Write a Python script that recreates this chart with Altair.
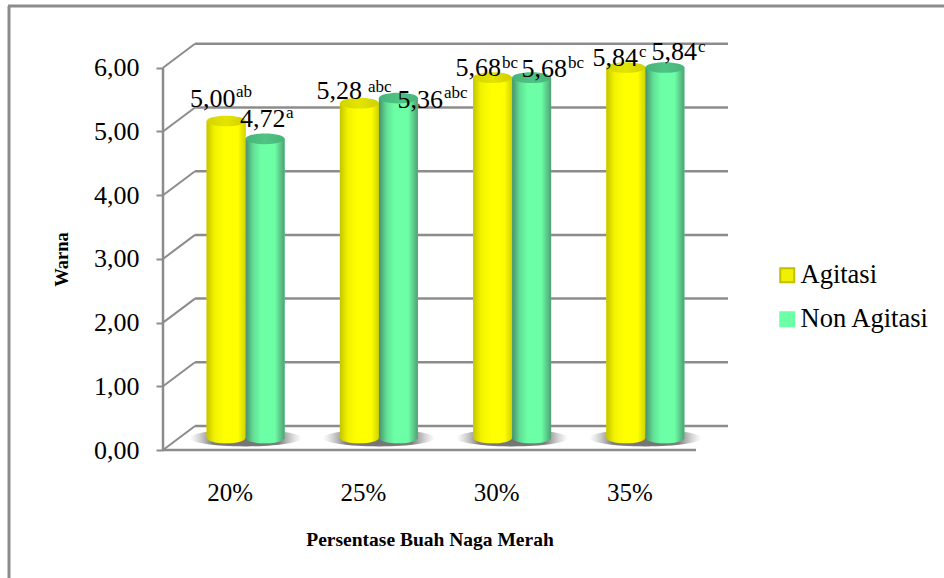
import altair as alt
import pandas as pd

# Chart values
categories = ["20%", "25%", "30%", "35%"]
agitasi = [5.00, 5.28, 5.68, 5.84]
non_agitasi = [4.72, 5.36, 5.68, 5.84]
notes_agitasi = ["ab", "abc", "bc", "c"]
notes_non_agitasi = ["a", "abc", "bc", "c"]
value_ticks = [0, 1, 2, 3, 4, 5, 6]
series_names = ["Agitasi", "Non Agitasi"]

# Layout, in pixels
FONT = "Liberation Serif"
GREY = "#8c8c8c"
PLOT_W, PLOT_H = 565, 407
CAT_PX, VAL_PX = 133.25, 63.7
DEPTH_X, DEPTH_Y = 32, 24
BAR_W = 39
CAP_DROP = 1.5
ELLIPSE = "M-1,0A1,0.275 0 1,1 1,0A1,0.275 0 1,1 -1,0Z"
SHADOW = "M-1,0A1,0.15 0 1,1 1,0A1,0.15 0 1,1 -1,0Z"

# Hand placement of the value labels around each bar top: number end, baseline,
# then the gap and rise of the superscript
label_dx = {"Agitasi": [9.4, 2.6, 8.4, 12.1], "Non Agitasi": [20.4, 44.6, 35.4, 32.1]}
label_dy = {"Agitasi": [-12.5, -2.7, 0, 0], "Non Agitasi": [-10.3, 11.4, 0.8, -6]}
note_gap = {"Agitasi": [0.5, 6, 1, 1], "Non Agitasi": [0.5, 1, 1, 1]}
note_rise = {"Agitasi": [10, 7, 8, 9], "Non Agitasi": [9, 10, 9, 8]}

dx_units = DEPTH_X / CAT_PX
dy_units = DEPTH_Y / VAL_PX
x_scale = alt.Scale(domain=[0, PLOT_W / CAT_PX], nice=False, zero=False)
y_scale = alt.Scale(domain=[0, PLOT_H / VAL_PX], nice=False, zero=False)

y_axis = alt.Axis(
    values=value_ticks, domain=False, grid=False,
    tickColor=GREY, tickWidth=2, tickSize=7,
    labelExpr="replace(format(datum.value, '.2f'), '.', ',')",
    labelFont=FONT, labelFontSize=26, labelColor="black", labelPadding=17,
    title="Warna", titleFont=FONT, titleFontSize=18.5, titleFontWeight="bold",
    titleColor="black", titleAngle=270, titleX=-96, titleY=216,
    titleAlign="center", titleBaseline="alphabetic",
)
x_axis = alt.Axis(
    values=[i + 0.5 for i in range(len(categories))], domain=False, grid=False,
    ticks=False, labelAngle=0,
    labelExpr="['" + "','".join(categories) + "'][floor(datum.value)]",
    labelFont=FONT, labelFontSize=25, labelColor="black", labelPadding=30,
    title="Persentase Buah Naga Merah", titleFont=FONT, titleFontSize=19.5,
    titleFontWeight="bold", titleColor="black", titleX=266.5, titleY=95,
    titleAlign="center", titleBaseline="alphabetic",
)


def px(field):
    return alt.X(field, type="quantitative", scale=x_scale, axis=x_axis)


def py(field):
    return alt.Y(field, type="quantitative", scale=y_scale, axis=y_axis)


# One row per cylinder
rows = []
for name, sign, values, notes in [
    ("Agitasi", -1, agitasi, notes_agitasi),
    ("Non Agitasi", 1, non_agitasi, notes_non_agitasi),
]:
    for i, value in enumerate(values):
        centre = i + 0.5 + dx_units / 2 + sign * BAR_W / 2 / CAT_PX
        mid_depth = value + dy_units / 2
        split = centre + label_dx[name][i] / CAT_PX
        base = mid_depth - label_dy[name][i] / VAL_PX
        rows.append({
            "series": name,
            "centre": centre,
            "left": centre - BAR_W / 2 / CAT_PX,
            "right": centre + BAR_W / 2 / CAT_PX,
            "floor": dy_units / 2,
            "top": mid_depth - CAP_DROP / VAL_PX,
            "number": f"{value:.2f}".replace(".", ","),
            "note": notes[i],
            "number_x": split,
            "number_y": base,
            "note_x": split + note_gap[name][i] / CAT_PX,
            "note_y": base + note_rise[name][i] / VAL_PX,
        })
bars = pd.DataFrame(rows)

# The box: back wall, side diagonals, front axis line and floor edge
back = pd.DataFrame({
    "x": [dx_units] * len(value_ticks),
    "x2": [dx_units + len(categories)] * len(value_ticks),
    "y": [v + dy_units for v in value_ticks],
})
diagonals = pd.DataFrame({
    "x": [0.0] * len(value_ticks),
    "x2": [dx_units] * len(value_ticks),
    "y": [float(v) for v in value_ticks],
    "y2": [v + dy_units for v in value_ticks],
})
front = pd.DataFrame({"x": [0.0, 0.0], "x2": [0.0, float(len(categories))],
                      "y": [0.0, 0.0], "y2": [float(value_ticks[-1]), 0.0]})
shadows = pd.DataFrame({"x": [i + 0.5 + dx_units / 2 for i in range(len(categories))],
                        "y": [dy_units / 2] * len(categories)})


def sideways(stops):
    return alt.LinearGradient(
        gradient="linear", x1=0, x2=1, y1=0, y2=0,
        stops=[alt.GradientStop(color=c, offset=o) for o, c in stops],
    )


yellow_body = sideways([(0, "#c4c400"), (0.2, "#f2f200"), (0.45, "#ffff00"), (0.8, "#ffff00"), (1, "#d2d200")])
green_body = sideways([(0, "#48906a"), (0.2, "#62e096"), (0.4, "#6cffa6"), (0.75, "#6cffa6"), (1, "#4f9f74")])
yellow_cap = sideways([(0, "#d4d400"), (0.5, "#e4e400"), (1, "#d0d000")])
green_cap = sideways([(0, "#48b478"), (0.5, "#4fc484"), (1, "#48b478")])
shade = alt.RadialGradient(
    gradient="radial", x1=0.5, y1=0.5, x2=0.5, y2=0.5, r1=0, r2=0.5,
    stops=[alt.GradientStop(color="rgba(115,115,115,1)", offset=0),
           alt.GradientStop(color="rgba(120,120,120,0.95)", offset=0.6),
           alt.GradientStop(color="rgba(170,170,170,0)", offset=1)],
)

one_row = alt.Data(values=[{"k": 1}])
frame_top = alt.Chart(one_row).mark_rule(color=GREY, strokeWidth=3).encode(
    x=alt.value(-155), x2=alt.value(781), y=alt.value(-37))
frame_left = alt.Chart(one_row).mark_rule(color=GREY, strokeWidth=3).encode(
    x=alt.value(-154), y=alt.value(-37), y2=alt.value(535))

axes = alt.Chart(front).mark_rule(color=GREY, strokeWidth=2.5).encode(
    x=px("x"), x2="x2:Q", y=py("y"), y2="y2:Q")
back_lines = alt.Chart(back).mark_rule(color=GREY, strokeWidth=2.5).encode(
    x=px("x"), x2="x2:Q", y=py("y"))
side_lines = alt.Chart(diagonals).mark_rule(color=GREY, strokeWidth=2).encode(
    x=px("x"), x2="x2:Q", y=py("y"), y2="y2:Q")
floor_shadow = alt.Chart(shadows).mark_point(
    shape=SHADOW, size=112 ** 2, filled=True, fill=shade, opacity=1, strokeWidth=0,
).encode(x=px("x"), y=py("y"))

# Flat bars carry the legend; the shaded cylinders sit on top of them
flat = alt.Chart(bars).mark_bar(strokeWidth=0).encode(
    x=px("left"), x2="right:Q", y=py("floor"), y2="top:Q",
    color=alt.Color("series:N", scale=alt.Scale(domain=series_names, range=["#f0f000", "#6cffa6"]),
                    legend=alt.Legend(
                        title=None, orient="none", legendX=611, legendY=219, padding=0,
                        symbolType="square", symbolSize=196, symbolStrokeWidth=2,
                        symbolOpacity=1, labelFont=FONT, labelFontSize=26.5, labelColor="black",
                        labelOffset=0, rowPadding=17, labelLimit=200,
                    )),
    stroke=alt.Stroke("series:N", scale=alt.Scale(domain=series_names, range=["#c0c000", "#6cffa6"])),
)


def cylinder(name, body, cap):
    rows_here = alt.Chart(bars).transform_filter(alt.datum.series == name)
    return [
        rows_here.mark_bar(fill=body, strokeWidth=0).encode(
            x=px("left"), x2="right:Q", y=py("floor"), y2="top:Q"),
        rows_here.mark_point(shape=ELLIPSE, size=BAR_W ** 2, filled=True, fill=body,
                             opacity=1, strokeWidth=0).encode(x=px("centre"), y=py("floor")),
        rows_here.mark_point(shape=ELLIPSE, size=BAR_W ** 2, filled=True, fill=cap,
                             opacity=1, strokeWidth=0).encode(x=px("centre"), y=py("top")),
    ]


numbers = alt.Chart(bars).mark_text(
    font=FONT, fontSize=26, color="black", align="right", baseline="alphabetic",
).encode(x=px("number_x"), y=py("number_y"), text="number:N")
superscripts = alt.Chart(bars).mark_text(
    font=FONT, fontSize=17, color="black", align="left", baseline="alphabetic",
).encode(x=px("note_x"), y=py("note_y"), text="note:N")

chart = alt.layer(
    frame_top, frame_left, axes, back_lines, side_lines, floor_shadow, flat,
    *cylinder("Agitasi", yellow_body, yellow_cap),
    *cylinder("Non Agitasi", green_body, green_cap),
    numbers, superscripts,
).resolve_scale(color="shared").properties(
    width=PLOT_W, height=PLOT_H,
    padding={"left": 163, "top": 43, "right": 216, "bottom": 128},
    autosize=alt.AutoSizeParams(type="none"),
    background="white",
).configure_view(stroke=None)

chart.save("out.html", embed_options={"renderer": "svg", "actions": False})
